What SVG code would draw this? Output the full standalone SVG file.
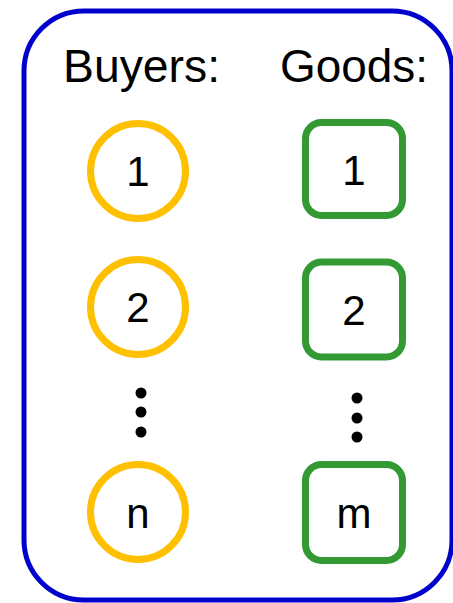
<svg xmlns="http://www.w3.org/2000/svg" width="453" height="603" viewBox="0 0 453 603">
<style>
.t{font-family:"Liberation Sans",Arial,sans-serif;fill:#000}
.h{font-size:46px}
.n{font-size:42px;text-anchor:middle}
.buyer{fill:#fff;stroke:#FFC000;stroke-width:7}
.good{fill:#fff;stroke:#339933;stroke-width:7}
.dot{fill:#000}
</style>
<rect id="frame" x="24" y="11" width="428" height="589" rx="60" ry="60" fill="#fff" stroke="#0000CC" stroke-width="5"/>
<text class="t h" x="63" y="82" textLength="157" lengthAdjust="spacingAndGlyphs">Buyers:</text>
<text class="t h" x="280" y="82" textLength="148" lengthAdjust="spacingAndGlyphs">Goods:</text>
<g id="buyer1"><circle class="buyer" cx="138" cy="171" r="47.5"/><text class="t n" x="138" y="186">1</text></g>
<g id="buyer2"><circle class="buyer" cx="138" cy="307" r="47.5"/><text class="t n" x="138" y="322">2</text></g>
<g id="buyerDots"><circle class="dot" cx="141" cy="393" r="5.5"/><circle class="dot" cx="141" cy="412" r="5.5"/><circle class="dot" cx="141" cy="432" r="5.5"/></g>
<g id="buyerN"><circle class="buyer" cx="138" cy="512" r="47.5"/><text class="t n" x="138" y="528">n</text></g>
<g id="good1"><rect class="good" x="305.5" y="122.5" width="97" height="93" rx="16"/><text class="t n" x="354" y="185">1</text></g>
<g id="good2"><rect class="good" x="305.5" y="262" width="97" height="95" rx="16"/><text class="t n" x="354" y="325">2</text></g>
<g id="goodDots"><circle class="dot" cx="357" cy="398" r="5.5"/><circle class="dot" cx="357" cy="418" r="5.5"/><circle class="dot" cx="357" cy="437" r="5.5"/></g>
<g id="goodM"><rect class="good" x="305.5" y="464.5" width="97" height="96" rx="16"/><text class="t n" x="354" y="528">m</text></g>
<g id="connectors"></g>
</svg>
